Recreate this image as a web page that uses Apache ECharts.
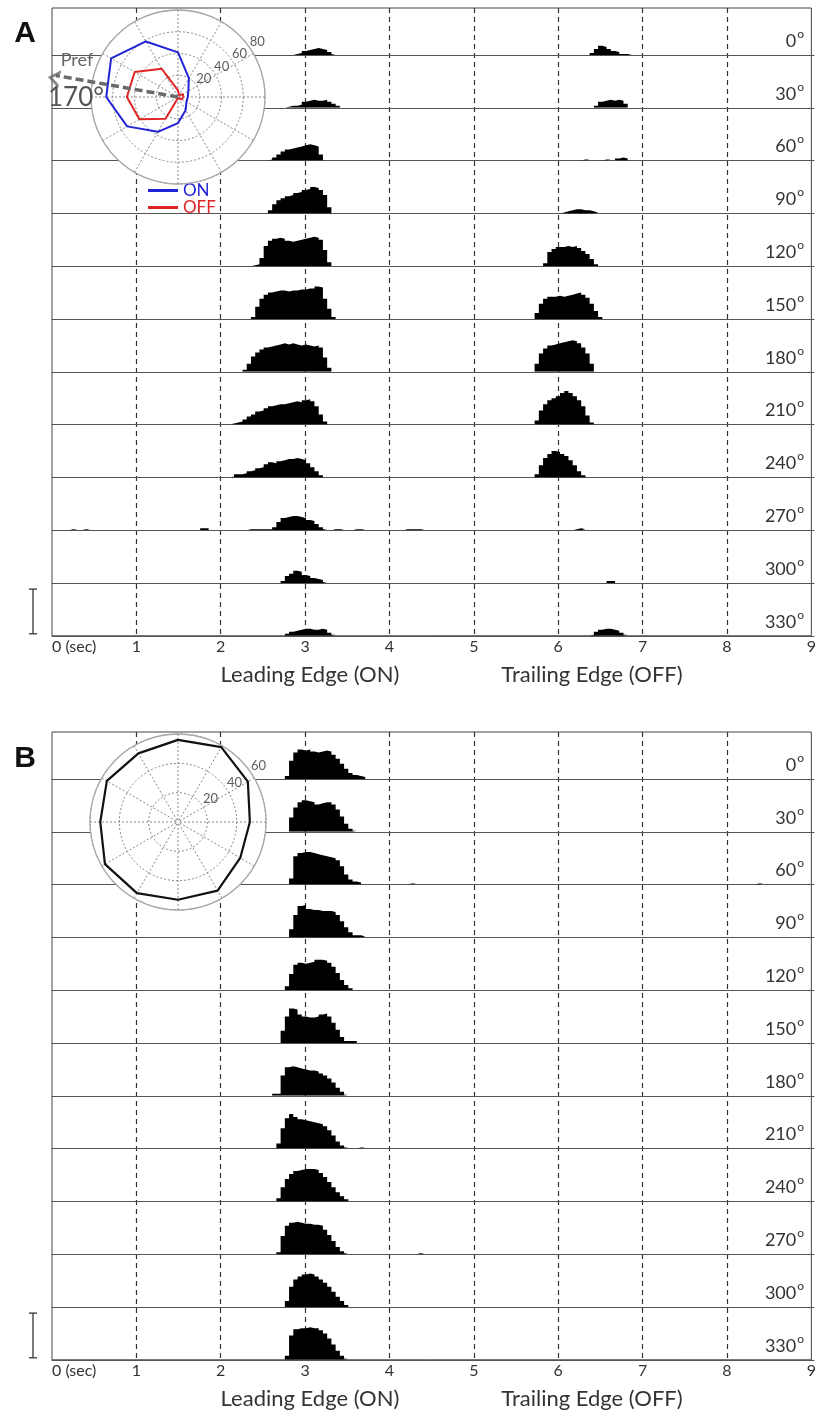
<!DOCTYPE html>
<html>
<head>
<meta charset="utf-8">
<script src="https://cdn.jsdelivr.net/npm/echarts@6/dist/echarts.min.js"></script>
<style>
  html, body { margin: 0; background: #fff; }
  #chart { width: 819px; height: 1410px; }
</style>
</head>
<body>
<div id="chart"></div>
<script>
// ---- data ----
const angles = [0, 30, 60, 90, 120, 150, 180, 210, 240, 270, 300, 330]
const timeTicks = [0, 1, 2, 3, 4, 5, 6, 7, 8, 9]
const binSec = 0.05
const rateMax = 52
const scaleBarRate = 44

// each row: list of [start (s), rates per 0.05 s bin]
const histA = [
  [[2.85, [1, 2, 4, 5, 6, 7, 6, 5, 3, 1]], [6.35, [2, 6, 9, 8, 6, 4, 3, 1, 1, 1]]],
  [[2.75, [1, 2, 2, 3, 6, 7, 8, 7, 7, 8, 6, 4, 2]], [6.4, [2, 6, 7, 8, 7, 8, 7, 4]]],
  [[2.55, [1, 3, 6, 9, 11, 12, 13, 14, 15, 16, 15, 14, 6]], [6.25, [1, 1]], [6.5, [1, 1]], [6.65, [2, 3, 2]]],
  [[2.55, [3, 9, 13, 15, 17, 18, 20, 21, 23, 24, 26, 25, 23, 18, 6]], [6.0, [1, 2, 3, 4, 4, 3, 3, 2, 1]]],
  [[2.35, [1, 2, 8, 20, 25, 27, 28, 27, 25, 24, 25, 26, 27, 28, 29, 28, 26, 16, 4]], [5.8, [3, 14, 17, 19, 19, 20, 19, 20, 18, 15, 12, 7, 2]]],
  [[2.35, [2, 12, 20, 24, 26, 27, 28, 28, 27, 28, 28, 29, 29, 30, 30, 32, 31, 20, 10, 2]], [5.7, [6, 15, 20, 22, 22, 23, 22, 23, 24, 25, 26, 24, 21, 15, 8, 2]]],
  [[2.25, [2, 8, 15, 19, 22, 24, 25, 26, 27, 28, 27, 28, 27, 26, 27, 26, 25, 26, 24, 14, 4]], [5.7, [8, 18, 23, 26, 27, 28, 29, 30, 31, 30, 28, 24, 18, 8]]],
  [[2.1, [1, 2, 3, 5, 8, 10, 13, 14, 16, 18, 19, 20, 20, 21, 22, 23, 22, 24, 25, 23, 18, 10, 3]], [5.7, [4, 14, 20, 24, 26, 28, 31, 33, 31, 28, 24, 18, 9, 2]]],
  [[2.1, [1, 3, 3, 4, 6, 7, 9, 10, 13, 15, 14, 16, 17, 18, 18, 19, 18, 17, 14, 10, 6, 2]], [5.7, [3, 12, 19, 23, 26, 25, 23, 21, 17, 12, 6, 2]]],
  [[0.2, [1, 1]], [0.35, [1, 1]], [1.75, [2, 2]], [2.3, [1, 1, 1, 1, 1, 1, 3, 8, 12, 13, 14, 14, 13, 12, 10, 9, 6, 3, 1]],
   [3.3, [1, 1, 1]], [3.55, [1, 1, 1]], [4.15, [1, 1, 1, 1, 1]], [6.15, [1, 2, 1]], [7.6, [1]], [8.7, [1]]],
  [[2.7, [2, 7, 9, 12, 11, 8, 7, 5, 4, 3, 1]], [6.55, [2, 2]]],
  [[2.75, [2, 4, 5, 6, 7, 7, 6, 6, 7, 6, 3, 1]], [6.35, [1, 4, 6, 7, 7, 6, 5, 3, 1]]],
]

const histB = [
  [[2.75, [3, 18, 26, 29, 28, 29, 27, 26, 27, 28, 27, 24, 20, 15, 10, 6, 4, 3, 2]]],
  [[2.8, [14, 24, 29, 31, 30, 29, 27, 28, 29, 29, 27, 22, 15, 8, 3, 1]]],
  [[2.8, [6, 28, 31, 32, 32, 31, 30, 29, 28, 27, 26, 24, 18, 10, 5, 3, 2]], [4.2, [1, 1]], [8.3, [1, 1]]],
  [[2.8, [8, 22, 31, 32, 28, 27, 27, 26, 26, 26, 25, 22, 16, 10, 5, 2, 2, 1]]],
  [[2.75, [4, 16, 25, 27, 26, 27, 28, 30, 30, 29, 27, 23, 17, 10, 5, 2]], [6.2, [1]]],
  [[2.7, [12, 26, 34, 33, 28, 26, 25, 25, 26, 28, 29, 26, 20, 13, 6, 2, 2, 2]], [5.9, [1]], [6.2, [1]]],
  [[2.6, [2, 2, 20, 28, 29, 28, 27, 26, 25, 25, 24, 22, 20, 17, 13, 8, 4, 1]]],
  [[2.65, [5, 20, 30, 34, 31, 29, 28, 27, 26, 25, 24, 22, 18, 13, 7, 3, 1]], [3.6, [1, 1]]],
  [[2.65, [3, 14, 22, 27, 30, 31, 32, 32, 32, 31, 28, 24, 19, 14, 9, 5, 2]]],
  [[2.65, [2, 18, 28, 31, 32, 31, 30, 30, 29, 29, 28, 24, 19, 13, 7, 3, 1]], [4.3, [1, 1]]],
  [[2.75, [6, 20, 27, 30, 32, 33, 32, 30, 27, 24, 20, 15, 10, 6, 2]]],
  [[2.75, [4, 24, 30, 31, 31, 32, 31, 31, 29, 26, 21, 15, 9, 4, 1]]],
]

// polar tuning curves (spikes/s per direction)
const onTuningA = [9, 11, 20, 41, 59, 71, 66, 54, 37, 24, 14, 9]
const offTuningA = [5, 5, 2, 6, 30, 46, 47, 41, 23, 1, 2, 4]
const tuningB = [49, 55, 59, 56, 54, 56, 53, 57.5, 56, 53, 54, 49]
const ringTicksA = [20, 40, 60, 80]
const ringTicksB = [20, 40, 60]
const prefDirA = 170
const prefLenA = 116

// ---- layout ----
const LEFT = 52
const RIGHT = 5
const ROW_H = 52.8
const FONT = 'Lato, "Open Sans", sans-serif'
const ARROW_R = 135

const panels = [
  { name: 'A', hist: histA, top: 8, base0: 55, center: [178, 97], r: 87, rMax: 80, rings: ringTicksA, labelPos: [25, 34] },
  { name: 'B', hist: histB, top: 732, base0: 779, center: [178, 822], r: 88, rMax: 60, rings: ringTicksB, labelPos: [25, 759] },
]

const grid = []
const xAxis = []
const yAxis = []
const series = []
const polar = []
const angleAxis = []
const radiusAxis = []
const graphic = []

// histogram outline of one burst: flat top over each bin
const histPoints = ([t0, vals]) => {
  const pts = [[t0, 0]]
  vals.forEach((v, i) => {
    pts.push([+(t0 + i * binSec).toFixed(3), v], [+(t0 + (i + 1) * binSec).toFixed(3), v])
  })
  pts.push([+(t0 + vals.length * binSec).toFixed(3), 0])
  return pts
}

const closeLoop = (vals) => {
  const pts = angles.map((a, i) => [vals[i], a])
  pts.push([vals[0], 360])
  return pts
}

panels.forEach((p, pi) => {
  const lastBase = p.base0 + 11 * ROW_H

  // frame + time axis with dashed second lines
  const fg = grid.length
  grid.push({ left: LEFT, right: RIGHT, top: p.top, height: lastBase - p.top, show: true, borderColor: '#444', borderWidth: 1, backgroundColor: 'transparent' })
  xAxis.push({
    gridIndex: fg, type: 'value', min: 0, max: 9, interval: 1,
    axisLine: { show: false }, axisTick: { show: false },
    axisLabel: {
      margin: 3, fontSize: 16, color: '#333', fontFamily: FONT, alignMinLabel: 'left',
      formatter: (v) => (v === timeTicks[0] ? '0 (sec)' : String(v)),
    },
    splitLine: { show: true, showMinLine: false, showMaxLine: false, lineStyle: { color: '#333', type: [5, 4], width: 1.2 } },
  })
  yAxis.push({ gridIndex: fg, type: 'value', min: 0, max: 1, show: false })

  // one row per direction
  p.hist.forEach((segs, ri) => {
    const base = p.base0 + ri * ROW_H
    const g = grid.length
    grid.push({ left: LEFT, right: RIGHT, top: base - ROW_H, height: ROW_H })
    xAxis.push({
      gridIndex: g, type: 'value', min: 0, max: 9,
      axisLine: { show: true, onZero: false, lineStyle: { color: '#555', width: 1 } },
      axisTick: { show: false }, axisLabel: { show: false }, splitLine: { show: false },
    })
    yAxis.push({ gridIndex: g, type: 'value', min: 0, max: rateMax, show: false })
    segs.forEach((seg) => {
      series.push({
        type: 'line', xAxisIndex: g, yAxisIndex: g, data: histPoints(seg),
        symbol: 'none', lineStyle: { width: 0, color: 'rgba(0,0,0,0)' }, areaStyle: { color: '#000', opacity: 1 },
        silent: true, z: 2,
      })
    })
    graphic.push({
      type: 'text', x: 804, y: base - 17, z: 10,
      style: {
        text: `{n|${angles[ri]}}{s|o}`, align: 'right', verticalAlign: 'middle',
        rich: {
          n: { fontSize: 18, lineHeight: 24, verticalAlign: 'bottom', fontFamily: FONT, fill: '#333' },
          s: { fontSize: 12, lineHeight: 12, verticalAlign: 'top', fontFamily: FONT, fill: '#333', padding: [2, 0, 0, 1] },
        },
      },
    })
  })

  // polar inset
  polar.push({ center: p.center, radius: p.r })
  angleAxis.push({
    polarIndex: pi, type: 'value', min: 0, max: 360, interval: 30, startAngle: 0, clockwise: false, z: 4,
    axisLine: { lineStyle: { color: '#a8a8a8', width: 1.3 } }, axisTick: { show: false }, axisLabel: { show: false },
    splitLine: { lineStyle: { color: '#888', type: [2, 2], width: 1 } },
  })
  radiusAxis.push({
    polarIndex: pi, type: 'value', min: 0, max: p.rMax, interval: 20, z: 4,
    axisLine: { show: false }, axisTick: { show: false }, axisLabel: { show: false },
    splitLine: { show: true, lineStyle: { color: '#888', type: [2, 2], width: 1 } },
  })
  series.push({
    type: 'pie', center: p.center, radius: [0, p.r], data: [{ value: 1, name: 'bg' + pi }],
    itemStyle: { color: '#fff' }, label: { show: false }, labelLine: { show: false },
    silent: true, z: 3, emphasis: { disabled: true },
  })
  const off = pi === 0 ? 9 : 7
  series.push({
    type: 'scatter', coordinateSystem: 'polar', polarIndex: pi, symbolSize: 0, clip: false, z: 6, silent: true,
    data: p.rings.map((v) => ({ value: [v + off, 35], name: String(v) })),
    label: { show: true, position: 'inside', formatter: '{b}', fontSize: 13, fontFamily: FONT, color: '#333' },
  })

  graphic.push({
    type: 'text', x: p.labelPos[0], y: p.labelPos[1],
    style: { text: p.name, align: 'center', verticalAlign: 'middle', fontSize: 30, fontWeight: 'bold', fontFamily: '"Liberation Sans", Arial, sans-serif', fill: '#111' },
  })
  graphic.push({
    type: 'text', x: 310, y: lastBase + 39,
    style: { text: 'Leading Edge (ON)', align: 'center', verticalAlign: 'middle', fontSize: 22, fontFamily: FONT, fill: '#333' },
  })
  graphic.push({
    type: 'text', x: 592, y: lastBase + 39,
    style: { text: 'Trailing Edge (OFF)', align: 'center', verticalAlign: 'middle', fontSize: 22, fontFamily: FONT, fill: '#333' },
  })

  // scale bar
  const sx = 33
  const sBot = lastBase - 2
  const sTop = sBot - (scaleBarRate / rateMax) * ROW_H
  const barStyle = { stroke: '#333', lineWidth: 1.3 }
  graphic.push({
    type: 'group',
    children: [
      { type: 'line', shape: { x1: sx, y1: sTop, x2: sx, y2: sBot }, style: barStyle },
      { type: 'line', shape: { x1: sx - 4, y1: sTop, x2: sx + 4, y2: sTop }, style: barStyle },
      { type: 'line', shape: { x1: sx - 4, y1: sBot, x2: sx + 4, y2: sBot }, style: barStyle },
    ],
  })
})

// invisible wider polar for the preferred-direction arrow (not clipped by the inset)
polar.push({ center: panels[0].center, radius: ARROW_R })
angleAxis.push({ polarIndex: 2, type: 'value', min: 0, max: 360, startAngle: 0, clockwise: false, show: false })
radiusAxis.push({ polarIndex: 2, type: 'value', min: 0, max: panels[0].rMax * ARROW_R / panels[0].r, show: false })

// tuning curves
series.push({
  name: 'ON', type: 'line', coordinateSystem: 'polar', polarIndex: 0, data: closeLoop(onTuningA),
  symbol: 'none', lineStyle: { color: '#2222d6', width: 2 }, itemStyle: { color: '#2222d6' }, z: 6,
})
series.push({
  name: 'OFF', type: 'line', coordinateSystem: 'polar', polarIndex: 0, data: closeLoop(offTuningA),
  symbol: 'none', lineStyle: { color: '#e02424', width: 2 }, itemStyle: { color: '#e02424' }, z: 6,
})
series.push({
  name: 'all', type: 'line', coordinateSystem: 'polar', polarIndex: 1, data: closeLoop(tuningB),
  symbol: 'none', lineStyle: { color: '#111', width: 2.2 }, z: 6,
})

// preferred direction arrow
series.push({
  type: 'line', coordinateSystem: 'polar', polarIndex: 2, z: 7, silent: true,
  data: [[0, prefDirA], [prefLenA - 2, prefDirA]], symbol: 'none',
  lineStyle: { color: '#6a6a6a', width: 3.5, type: [8, 4] },
})
series.push({
  type: 'scatter', coordinateSystem: 'polar', polarIndex: 2, z: 7, silent: true,
  data: [[prefLenA, prefDirA]], symbol: 'path://M10,0 L20,13 L16,13 L10,5 L4,13 L0,13 Z',
  symbolSize: [18, 12], symbolRotate: prefDirA - 90, symbolOffset: [0, 3],
  itemStyle: { color: '#6a6a6a' },
})
graphic.push({
  type: 'text', x: 77, y: 60, z: 10,
  style: { text: 'Pref', align: 'center', verticalAlign: 'middle', fontSize: 18, fontFamily: FONT, fill: '#666' },
})
graphic.push({
  type: 'text', x: 76, y: 98, z: 10,
  style: { text: prefDirA + '°', align: 'center', verticalAlign: 'middle', fontSize: 26, fontFamily: FONT, fill: '#555' },
})

const chart = echarts.init(document.getElementById('chart'))
chart.setOption({
  animation: false,
  backgroundColor: '#fff',
  legend: {
    data: [
      { name: 'ON', textStyle: { color: '#2222d6' } },
      { name: 'OFF', textStyle: { color: '#e02424' } },
    ],
    left: 148, top: 182, orient: 'vertical', icon: 'rect', itemWidth: 30, itemHeight: 3,
    itemGap: 0, padding: 0, selectedMode: false,
    textStyle: { fontSize: 17, fontFamily: FONT, lineHeight: 16 },
  },
  grid, xAxis, yAxis, polar, angleAxis, radiusAxis, series, graphic,
})
</script>
</body>
</html>
